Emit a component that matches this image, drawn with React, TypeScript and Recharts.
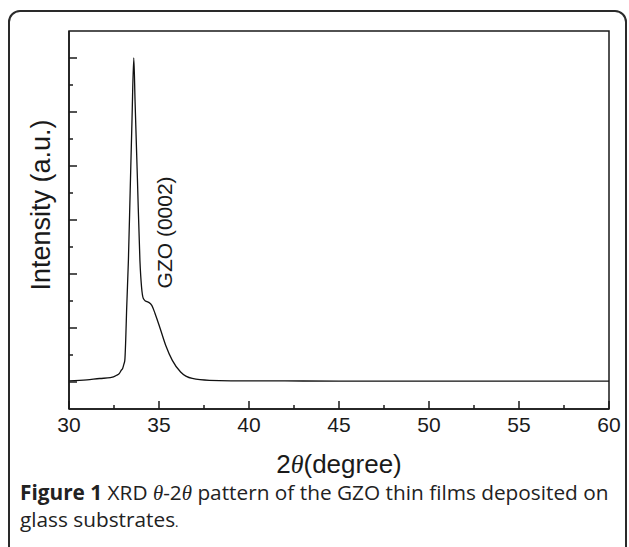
import React from "react"
import { LineChart, Line, XAxis, YAxis, ReferenceDot, ReferenceArea } from "recharts"

// 2theta (degree) and intensity (a.u.)
const twoTheta = [
  30, 31, 31.7, 32.3, 32.65, 32.8, 32.9, 32.98, 33.05, 33.1, 33.15, 33.2, 33.3, 33.4, 33.5, 33.6,
  33.67, 33.8, 33.94, 34.03, 34.13, 34.25, 34.4, 34.6, 34.78, 35.06, 35.37, 35.74, 36.2, 36.85,
  37.8, 39, 42, 45, 48, 51, 54, 57, 60,
]
const intensity = [
  0.04, 0.08, 0.13, 0.16, 0.25, 0.32, 0.43, 0.5, 0.66, 0.8, 1.54, 2.65, 4.5, 7.1, 9.7, 12.0,
  10.4, 7.55, 4.5, 3.52, 3.09, 3.0, 2.96, 2.84, 2.54, 1.99, 1.36, 0.8, 0.37, 0.13,
  0.06, 0.045, 0.04, 0.035, 0.035, 0.03, 0.03, 0.03, 0.03,
]
const xTicks = [30, 32.5, 35, 37.5, 40, 42.5, 45, 47.5, 50, 52.5, 55, 57.5, 60]
const yTicks = [0, 1, 2, 3, 4, 5, 6, 7, 8, 9, 10, 11, 12]

const data = twoTheta.map((t, i) => ({ t, v: intensity[i] }))

const FONT = "'Liberation Sans', Arial, sans-serif"
const INK = "#1a1a1a"

const XTick = (props: any) => {
  const { x, y, payload } = props
  const major = payload.value % 5 === 0
  return (
    <g>
      <line x1={x} x2={x} y1={y} y2={y - (major ? 8 : 4)} stroke={INK} strokeWidth={1.5} />
      {major && (
        <text x={x} y={y + 23} textAnchor="middle" fontSize={21} fontFamily={FONT} fill={INK}>
          {payload.value}
        </text>
      )}
    </g>
  )
}

const YTick = (props: any) => {
  const { x, y, payload } = props
  const major = payload.value % 2 === 0
  return <line x1={x} x2={x + (major ? 8 : 4)} y1={y} y2={y} stroke={INK} strokeWidth={1.5} />
}

const xTitle = (props: any) => {
  const { viewBox } = props
  const cx = viewBox.x + viewBox.width / 2
  return (
    <text x={cx} y={473} textAnchor="middle" fontSize={26} fontFamily={FONT} fill={INK}>
      2<tspan fontStyle="italic" fontFamily="'Liberation Serif', serif">θ</tspan>(degree)
    </text>
  )
}

const yTitle = () => (
  <text
    x={41}
    y={205}
    transform="rotate(-90 41 205)"
    textAnchor="middle"
    dominantBaseline="central"
    fontSize={27}
    fontFamily={FONT}
    fill={INK}
  >
    Intensity (a.u.)
  </text>
)

const peakLabel = (props: any) => {
  const { viewBox } = props
  const x = viewBox.x
  const y = viewBox.y
  return (
    <text
      x={x}
      y={y}
      transform={`rotate(-90 ${x} ${y})`}
      textAnchor="middle"
      dominantBaseline="central"
      fontSize={21}
      fontFamily={FONT}
      fill={INK}
    >
      GZO (0002)
    </text>
  )
}

export default function App() {
  return (
    <div style={{ position: "absolute", left: 0, top: 0, width: 629, height: 547, overflow: "hidden", background: "#fff" }}>
      <div
        style={{
          position: "absolute",
          left: 8,
          top: 10,
          width: 619,
          height: 600,
          border: "2px solid #2a2a2a",
          borderRadius: 12,
          boxSizing: "border-box",
        }}
      />
      <LineChart
        width={629}
        height={547}
        data={data}
        margin={{ top: 31, right: 20, left: 9, bottom: 108 }}
        style={{ position: "absolute", left: 0, top: 0 }}
      >
        <ReferenceArea x1={30} x2={60} y1={-1} y2={13} fill="none" stroke={INK} strokeWidth={1.5} />
        <XAxis
          dataKey="t"
          type="number"
          domain={[30, 60]}
          ticks={xTicks}
          interval={0}
          tick={<XTick />}
          tickLine={false}
          tickSize={0}
          tickMargin={0}
          height={30}
          axisLine={{ stroke: INK, strokeWidth: 1.5 }}
          label={{ content: xTitle }}
        />
        <YAxis
          type="number"
          domain={[-1, 13]}
          ticks={yTicks}
          interval={0}
          tick={<YTick />}
          tickLine={false}
          tickSize={0}
          tickMargin={0}
          width={60}
          axisLine={{ stroke: INK, strokeWidth: 1.5 }}
          label={{ content: yTitle }}
        />
        <Line
          dataKey="v"
          type="monotone"
          stroke="#111"
          strokeWidth={1.3}
          dot={false}
          isAnimationActive={false}
        />
        <ReferenceDot x={35.28} y={5.54} r={0} stroke="none" fill="none" label={{ content: peakLabel }} />
      </LineChart>
      <div
        style={{
          position: "absolute",
          left: 20,
          top: 479,
          width: 605,
          fontFamily: "'Open Sans', sans-serif",
          fontSize: 20.8,
          lineHeight: "27px",
          color: "#222",
          whiteSpace: "nowrap",
        }}
      >
        <b>Figure 1</b> XRD <i style={{ fontFamily: "'Liberation Serif', serif" }}>θ</i>-2
        <i style={{ fontFamily: "'Liberation Serif', serif" }}>θ</i> pattern of the GZO thin films deposited on
        <br />
        glass substrates<span style={{ fontSize: 13 }}>.</span>
      </div>
    </div>
  )
}
